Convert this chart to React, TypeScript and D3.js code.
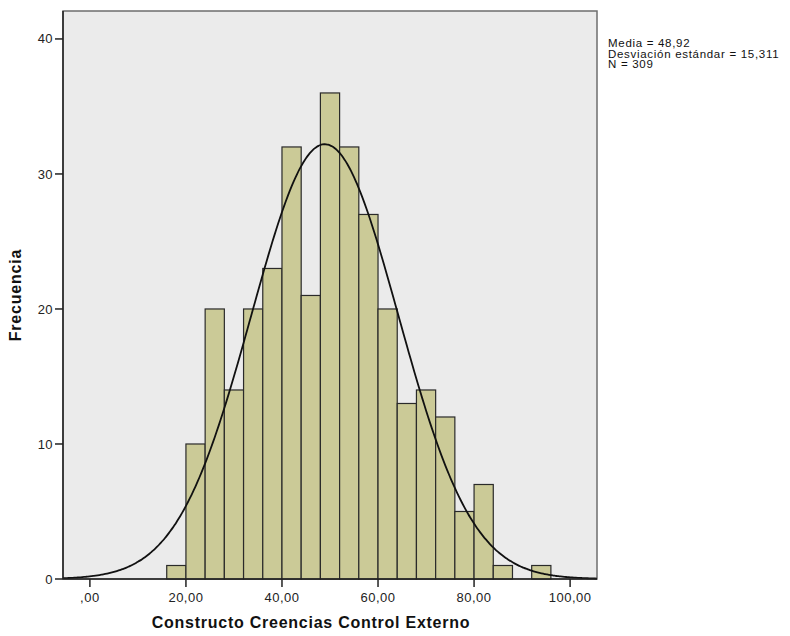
import * as d3 from 'd3';

const binStarts = [16, 20, 24, 28, 32, 36, 40, 44, 48, 52, 56, 60, 64, 68, 72, 76, 80, 84, 88, 92];
const counts = [1, 10, 20, 14, 20, 23, 32, 21, 36, 32, 27, 20, 13, 14, 12, 5, 7, 1, 0, 1];
const binWidth = 4;
const xTicks = [0, 20, 40, 60, 80, 100];
const yTicks = [0, 10, 20, 30, 40];
const mean = 48.92;
const sd = 15.311;
const n = 309;
const statLines = ['Media = 48,92', 'Desviación estándar = 15,311', 'N = 309'];

const W = 790;
const H = 636;
const plot = { left: 63, right: 597, top: 11, bottom: 579 };

export default function App() {
  const x = d3.scaleLinear().domain([-5.6, 105.6]).range([plot.left, plot.right]);
  const y = d3.scaleLinear().domain([0, 42.07]).range([plot.bottom, plot.top]);

  const fmt = (v: number) => (v === 0 ? ',00' : v.toFixed(2).replace('.', ','));

  const curvePts = d3.range(-5.6, 105.61, 0.4).map((v) => {
    const pdf = Math.exp(-0.5 * ((v - mean) / sd) ** 2) / (sd * Math.sqrt(2 * Math.PI));
    return [v, n * binWidth * pdf] as [number, number];
  });
  const line = d3.line<[number, number]>()
    .x((d) => x(d[0]))
    .y((d) => y(d[1]))
    .curve(d3.curveBasis);

  const font = '"Liberation Sans", Arial, sans-serif';

  return (
    <svg width={W} height={H} style={{ position: 'absolute', left: 0, top: 0, background: '#fff' }}>
      <rect x={plot.left} y={plot.top} width={plot.right - plot.left} height={plot.bottom - plot.top}
        fill="#ebebeb" stroke="#6e6e6e" strokeWidth={1.5} />
      {counts.map((c, i) => c > 0 && (
        <rect key={i}
          x={x(binStarts[i])}
          y={y(c)}
          width={x(binStarts[i] + binWidth) - x(binStarts[i])}
          height={y(0) - y(c)}
          fill="#cbca97" stroke="#2a2a2a" strokeWidth={1.2} />
      ))}
      <path d={line(curvePts) ?? ''} fill="none" stroke="#111" strokeWidth={1.8} />
      <line x1={plot.left} x2={plot.right} y1={plot.bottom} y2={plot.bottom} stroke="#222" strokeWidth={1.5} />
      <line x1={plot.left} x2={plot.left} y1={plot.top} y2={plot.bottom} stroke="#222" strokeWidth={1.5} />
      {yTicks.map((t) => (
        <g key={t}>
          <line x1={plot.left - 8} x2={plot.left} y1={y(t)} y2={y(t)} stroke="#222" strokeWidth={1.5} />
          <text x={plot.left - 10} y={y(t)} dy="0.35em" textAnchor="end" fontFamily={font} fontSize={13}
            letterSpacing={0.4} fill="#222">{t}</text>
        </g>
      ))}
      {xTicks.map((t) => (
        <g key={t}>
          <line x1={x(t)} x2={x(t)} y1={plot.bottom} y2={plot.bottom + 8} stroke="#222" strokeWidth={1.5} />
          <text x={x(t)} y={plot.bottom + 23} textAnchor="middle" fontFamily={font} fontSize={13}
            letterSpacing={0.5} fill="#222">{fmt(t)}</text>
        </g>
      ))}
      <text x={311} y={628} textAnchor="middle" fontFamily={font} fontSize={16} fontWeight="bold"
        letterSpacing={0.75} fill="#111">
        Constructo Creencias Control Externo
      </text>
      <text transform={`translate(21,${(plot.top + plot.bottom) / 2}) rotate(-90)`} textAnchor="middle"
        fontFamily={font} fontSize={16} fontWeight="bold" letterSpacing={0.8} fill="#111">Frecuencia</text>
      {statLines.map((s, i) => (
        <text key={i} x={608} y={47 + i * 10.5} fontFamily={font} fontSize={11.5} letterSpacing={0.7}
          fill="#111">{s}</text>
      ))}
    </svg>
  );
}
